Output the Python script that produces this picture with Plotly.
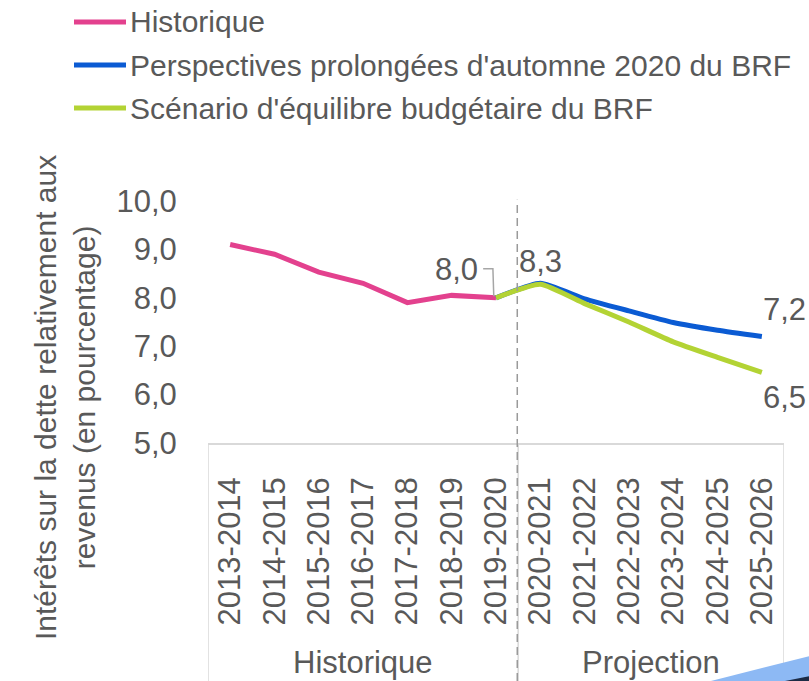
import plotly.graph_objects as go

categories = ["2013-2014", "2014-2015", "2015-2016", "2016-2017", "2017-2018",
              "2018-2019", "2019-2020", "2020-2021", "2021-2022", "2022-2023",
              "2023-2024", "2024-2025", "2025-2026"]
hist_cats = categories[:7]
hist_vals = [9.1, 8.9, 8.53, 8.3, 7.9, 8.05, 8.0]
proj_cats = categories[6:]
brf_vals = [8.0, 8.3, 7.98, 7.73, 7.49, 7.33, 7.2]
equil_vals = [8.0, 8.28, 7.88, 7.5, 7.09, 6.77, 6.46]
group_labels = ["Historique", "Projection"]
legend_names = ["Historique", "Perspectives prolongées d'automne 2020 du BRF",
                "Scénario d'équilibre budgétaire du BRF"]
colors = ["#E3418E", "#0B5BD3", "#B3D334"]
ytitle = "Intérêts sur la dette relativement aux<br>revenus (en pourcentage)"

FONT = "Liberation Sans"
GREY = "#595959"
FS = 31
LFS = 30

W, H = 809, 681
L, R, T, B = 208, 25, 201, 238
pw = W - L - R
ph = H - T - B

def px2paper(x, y):
    return (x - L) / pw, (H - B - y) / ph

fig = go.Figure()
fig.add_trace(go.Scatter(x=hist_cats, y=hist_vals, mode="lines", name=legend_names[0],
                         line=dict(color=colors[0], width=5), showlegend=False))
fig.add_trace(go.Scatter(x=proj_cats, y=brf_vals, mode="lines", name=legend_names[1],
                         line=dict(color=colors[1], width=5, shape="spline", smoothing=0.5),
                         showlegend=False))
fig.add_trace(go.Scatter(x=proj_cats, y=equil_vals, mode="lines", name=legend_names[2],
                         line=dict(color=colors[2], width=5, shape="spline", smoothing=0.5),
                         showlegend=False))

shapes = []
annotations = []

# Manual legend
for i, (name, col) in enumerate(zip(legend_names, colors)):
    yy = 22 + i * 43
    x0, y0 = px2paper(74, yy)
    x1, _ = px2paper(126, yy)
    shapes.append(dict(type="line", xref="paper", yref="paper", x0=x0, x1=x1, y0=y0, y1=y0,
                       line=dict(color=col, width=5)))
    tx, ty = px2paper(128, yy)
    annotations.append(dict(xref="paper", yref="paper", x=tx, y=ty, text=name, showarrow=False,
                            xanchor="left", yanchor="middle",
                            font=dict(family=FONT, size=LFS, color=GREY)))

# Group separators below axis
_, ybot = px2paper(0, H)
n = len(categories)
for xv in [-0.5, len(hist_cats) - 0.5, n - 0.5]:
    shapes.append(dict(type="line", xref="x", yref="paper", x0=xv, x1=xv, y0=0, y1=ybot,
                       line=dict(color="#D9D9D9", width=1.5)))
# dashed divider
shapes.append(dict(type="line", xref="x", yref="paper", x0=len(hist_cats) - 0.52,
                   x1=len(hist_cats) - 0.52, y0=ybot, y1=1.005,
                   line=dict(color="#9A9A9A", width=1.5, dash="8px,5px")))

# Group labels
_, gy = px2paper(0, 662)
annotations.append(dict(xref="x", yref="paper", x=(len(hist_cats) - 1) / 2, y=gy,
                        text=group_labels[0], showarrow=False, yanchor="middle",
                        font=dict(family=FONT, size=FS, color=GREY)))
annotations.append(dict(xref="x", yref="paper", x=(len(hist_cats) + n - 1) / 2, y=gy,
                        text=group_labels[1], showarrow=False, yanchor="middle",
                        font=dict(family=FONT, size=FS, color=GREY)))

# Y-axis title
tx, ty = px2paper(65, 398)
annotations.append(dict(xref="paper", yref="paper", x=tx, y=ty, text=ytitle, showarrow=False,
                        textangle=-90, xanchor="center", yanchor="middle",
                        font=dict(family=FONT, size=LFS, color=GREY)))

def fmt(v):
    return f"{v:.1f}".replace(".", ",")

# Data labels
last_hist = hist_vals[-1]
ix = len(hist_cats) - 1
annotations.append(dict(x=ix, y=last_hist, xref="x", yref="y", text=fmt(last_hist),
                        showarrow=False, xanchor="right", yanchor="middle",
                        xshift=-16, yshift=28,
                        font=dict(family=FONT, size=FS, color=GREY)))
shapes.append(dict(type="path", xref="x", yref="y",
                   path=f"M{ix - 0.29},{last_hist + 0.6} L{ix - 0.07},{last_hist + 0.6} "
                        f"L{ix - 0.05},{last_hist + 0.03}",
                   line=dict(color="#A6A6A6", width=1.5)))
annotations.append(dict(x=proj_cats[1], y=brf_vals[1], xref="x", yref="y", text=fmt(brf_vals[1]),
                        showarrow=False, xanchor="center", yanchor="bottom", yshift=2,
                        font=dict(family=FONT, size=FS, color=GREY)))
annotations.append(dict(x=proj_cats[-1], y=brf_vals[-1], xref="x", yref="y", text=fmt(brf_vals[-1]),
                        showarrow=False, xanchor="center", yanchor="bottom", xshift=23, yshift=8,
                        font=dict(family=FONT, size=FS, color=GREY)))
annotations.append(dict(x=proj_cats[-1], y=equil_vals[-1], xref="x", yref="y", text=fmt(equil_vals[-1]),
                        showarrow=False, xanchor="center", yanchor="top", xshift=23, yshift=-6,
                        font=dict(family=FONT, size=FS, color=GREY)))

# decorative corner shapes
def poly(pts):
    s = ""
    for j, (a, b) in enumerate(pts):
        xa, ya = px2paper(a, b)
        s += ("M" if j == 0 else "L") + f"{xa},{ya} "
    return s + "Z"

shapes.append(dict(type="path", xref="paper", yref="paper",
                   path=poly([(707, 682), (810, 656), (810, 682)]),
                   fillcolor="#8DB9F4", line=dict(width=0)))
shapes.append(dict(type="path", xref="paper", yref="paper",
                   path=poly([(780, 682), (810, 676), (810, 682)]),
                   fillcolor="#1C2B45", line=dict(width=0)))

fig.update_layout(
    width=W, height=H,
    margin=dict(l=L, r=R, t=T, b=B),
    paper_bgcolor="white", plot_bgcolor="white",
    separators=", ",
    showlegend=False,
    shapes=shapes, annotations=annotations,
    xaxis=dict(type="category", categoryorder="array", categoryarray=categories,
               range=[-0.5, n - 0.5], tickangle=-90, showgrid=False,
               showline=True, linecolor="#D9D9D9", linewidth=1.5,
               ticks="outside", ticklen=20, tickcolor="rgba(0,0,0,0)",
               tickfont=dict(family=FONT, size=FS, color=GREY), automargin=False),
    yaxis=dict(range=[5, 10], dtick=1, tick0=5, tickformat=".1f", showgrid=False,
               showline=False, zeroline=False, ticks="outside", ticklen=24,
               tickcolor="rgba(0,0,0,0)",
               tickfont=dict(family=FONT, size=FS, color=GREY), automargin=False),
)

fig.write_html("out.html", post_script="document.body.style.margin='0';",
               config={"displayModeBar": False})
